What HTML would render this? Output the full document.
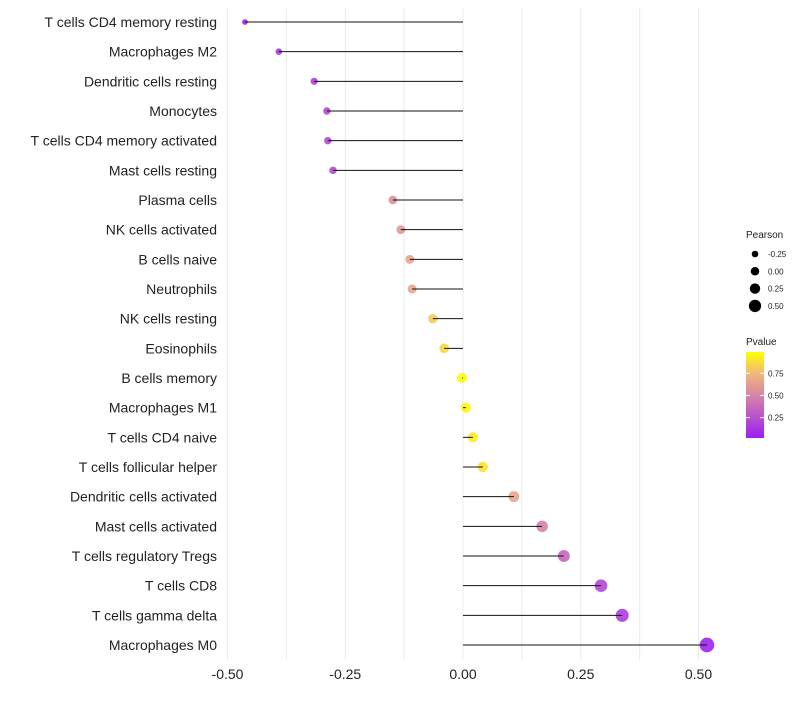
<!DOCTYPE html>
<html><head><meta charset="utf-8"><style>
body{margin:0;background:#fff;font-family:"Liberation Sans",sans-serif}
svg text{font-family:"Liberation Sans",sans-serif}
</style></head><body>
<svg id="c" width="800" height="700"></svg>
<script>
const categories=["T cells CD4 memory resting","Macrophages M2","Dendritic cells resting","Monocytes","T cells CD4 memory activated","Mast cells resting","Plasma cells","NK cells activated","B cells naive","Neutrophils","NK cells resting","Eosinophils","B cells memory","Macrophages M1","T cells CD4 naive","T cells follicular helper","Dendritic cells activated","Mast cells activated","T cells regulatory  Tregs ","T cells CD8","T cells gamma delta","Macrophages M0"];
const pearson=[-0.463,-0.391,-0.316,-0.289,-0.287,-0.276,-0.149,-0.132,-0.113,-0.108,-0.064,-0.040,-0.002,0.006,0.021,0.042,0.108,0.168,0.214,0.293,0.338,0.518];
const pvalue=[0.05,0.10,0.15,0.20,0.20,0.22,0.55,0.60,0.66,0.66,0.82,0.86,0.99,0.97,0.93,0.90,0.66,0.48,0.35,0.20,0.15,0.02];
const xTicks=[-0.5,-0.25,0,0.25,0.5];
const xTickLabels=["-0.50","-0.25","0.00","0.25","0.50"];
const sizeLegend=[-0.25,0,0.25,0.5];
const sizeLegendLabels=["-0.25","0.00","0.25","0.50"];
const pLegend=[0.25,0.5,0.75];
const pLegendLabels=["0.25","0.50","0.75"];

const svg=document.getElementById('c');const NS="http://www.w3.org/2000/svg";
function mk(t,a,p){const e=document.createElementNS(NS,t);for(const k in a)e.setAttribute(k,a[k]);(p||svg).appendChild(e);return e;}
const x=v=>463+v*471;
const y=i=>22+i*(623/21);
const r=v=>Math.max(2,5+4.5*v);
const stops=[[0,[155,31,245]],[0.5,[216,132,165]],[0.75,[240,184,120]],[1,[255,255,0]]];
function col(p){for(let i=1;i<stops.length;i++){if(p<=stops[i][0]){const a=stops[i-1],b=stops[i];const t=(p-a[0])/(b[0]-a[0]);return 'rgb('+a[1].map((c,j)=>Math.round(c+(b[1][j]-c)*t)).join(',')+')';}}return 'rgb(255,255,0)';}
for(let v=-0.5;v<=0.501;v+=0.125){const g=mk('line',{x1:x(v),x2:x(v),y1:8,y2:660,stroke:'#ebebeb','stroke-width':1});

}
xTicks.forEach((v,i)=>{const t=mk('text',{x:x(v),y:679,'text-anchor':'middle','font-size':14,fill:'#222'});t.textContent=xTickLabels[i];

});
categories.forEach((c,i)=>{
const t=mk('text',{x:217,y:y(i)+5,'text-anchor':'end','font-size':14,fill:'#222','xml:space':'preserve'});t.textContent=c;


const d=mk('circle',{cx:x(pearson[i]),cy:y(i),r:r(pearson[i]),fill:col(pvalue[i]),'fill-opacity':0.9});


const l=mk('line',{x1:x(0),x2:x(pearson[i]),y1:y(i),y2:y(i),stroke:'#111','stroke-width':1});


});
const lt=mk('text',{x:746,y:238,'font-size':10,fill:'#222'});lt.textContent='Pearson';


sizeLegend.forEach((v,i)=>{const cy=254+i*17.3;const c=mk('circle',{cx:755,cy:cy,r:r(v)*0.85});


const t=mk('text',{x:768,y:cy+3,'font-size':8,fill:'#222'});t.textContent=sizeLegendLabels[i];

});
const pt=mk('text',{x:746,y:345,'font-size':10,fill:'#222'});pt.textContent='Pvalue';


const defs=mk('defs',{});const gr=mk('linearGradient',{id:'g',x1:0,y1:1,x2:0,y2:0},defs);
[0,0.25,0.5,0.75,1].forEach(o=>mk('stop',{offset:o,'stop-color':col(o)},gr));
const bar=mk('rect',{x:746,y:352,width:18,height:86,fill:'url(#g)'});


pLegend.forEach((v,i)=>{const yy=438-(v-0.02)/0.97*86;mk('line',{x1:746,x2:750,y1:yy,y2:yy,stroke:'#fff'});mk('line',{x1:760,x2:764,y1:yy,y2:yy,stroke:'#fff'});
const t=mk('text',{x:768,y:yy+3,'font-size':8,fill:'#222'});t.textContent=pLegendLabels[i];

});
</script>
</body></html>
